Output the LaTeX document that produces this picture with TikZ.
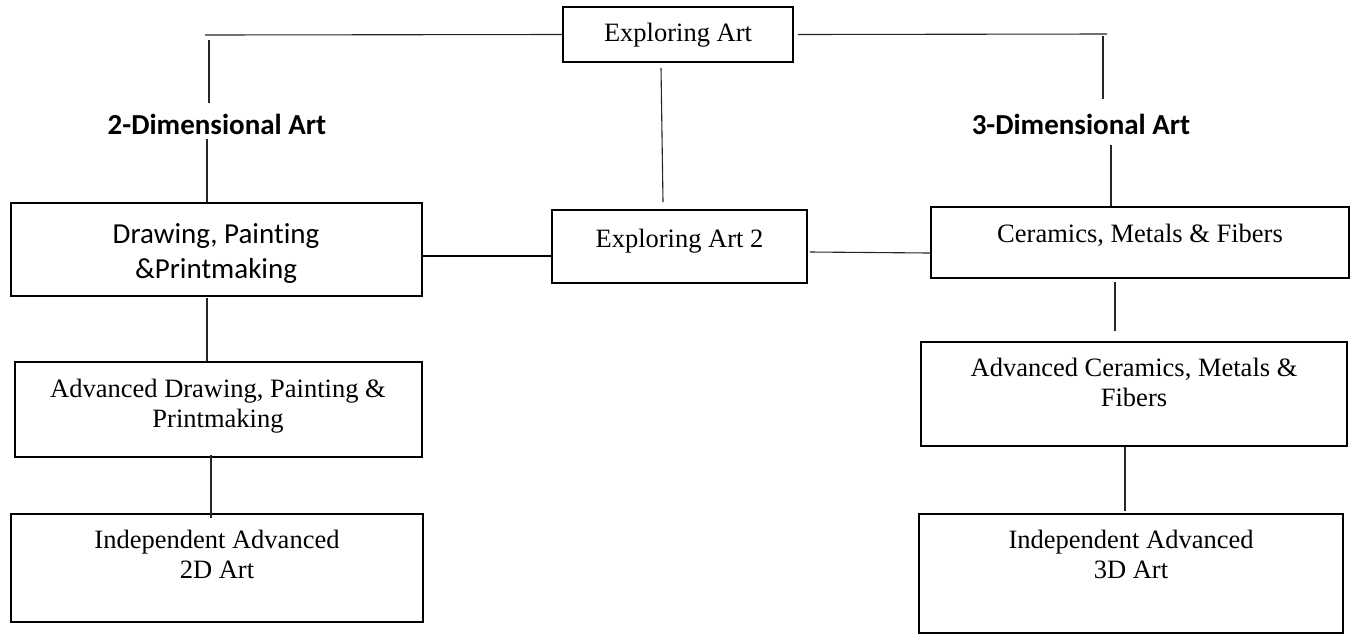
\documentclass[tikz,border=0pt]{standalone}
\usepackage{fontspec}
\setmainfont{Liberation Serif}
\newfontfamily\tnrfont{Liberation Serif}
\newfontfamily\calfont[Ligatures={NoCommon,NoRare,NoDiscretionary}]{Carlito}
\newcommand\twolines[2]{\begin{tabular}[t]{@{}c@{}}#1\\#2\end{tabular}}
\begin{document}
\begin{tikzpicture}[x=1pt,y=-1pt,
  boxst/.style={draw=black, line width=1.9pt, rectangle, inner sep=0pt},
  tnr/.style={inner sep=0pt, anchor=base, font=\tnrfont\fontsize{26.5}{30.5}\selectfont},
  cal/.style={inner sep=0pt, anchor=base, font=\calfont\fontsize{29}{35}\selectfont},
  calb/.style={inner sep=0pt, anchor=base, font=\calfont\bfseries\fontsize{29}{35}\selectfont},
  conn/.style={draw=black!85, line width=1.1pt},
  thickconn/.style={draw=black, line width=2pt}]
\useasboundingbox (0,0) rectangle (1356,633);
\fill[white] (0,0) rectangle (1356,633);

% boxes
\node[boxst, minimum width=230pt, minimum height=55pt] (ea)  at (678,34.5) {};
\node[boxst, minimum width=255pt, minimum height=73pt] (ea2) at (679.5,246.5) {};
\node[boxst, minimum width=411pt, minimum height=93pt] (drw) at (216.5,249.5) {};
\node[boxst, minimum width=407pt, minimum height=95pt] (advd) at (218.5,409.5) {};
\node[boxst, minimum width=412pt, minimum height=108pt] (ind2) at (217,568) {};
\node[boxst, minimum width=418pt, minimum height=71pt] (cer) at (1140,242.5) {};
\node[boxst, minimum width=426pt, minimum height=104pt] (advc) at (1134,394) {};
\node[boxst, minimum width=424pt, minimum height=119pt] (ind3) at (1131,573.5) {};

% texts
\node[tnr] (eaT) at (678,41) {Exploring Art};
\node[tnr] (ea2T) at (679.5,247) {Exploring Art 2};
\node[cal] (drwT) at (216,243) {\twolines{Drawing, Painting}{\&Printmaking}};
\node[tnr] (advdT) at (218,397) {\twolines{Advanced Drawing, Painting \&}{Printmaking}};
\node[tnr] (ind2T) at (217,548) {\twolines{Independent Advanced}{2D Art}};
\node[tnr] (cerT) at (1140,242) {Ceramics, Metals \& Fibers};
\node[tnr] (advcT) at (1134,376) {\twolines{Advanced Ceramics, Metals \&}{Fibers}};
\node[tnr] (ind3T) at (1131,548) {\twolines{Independent Advanced}{3D Art}};
\node[calb] (lbl2) at (217,134) {2-Dimensional Art};
\node[calb] (lbl3) at (1081,134) {3-Dimensional Art};

% free-end coordinates
\coordinate (tl) at (205,35);
\coordinate (vla) at (209,40);
\coordinate (vlb) at (209,103);
\coordinate (tr) at (1107,34);
\coordinate (vra) at (1103,36);
\coordinate (vrb) at (1103,99);
\coordinate (l2a) at (207,139);
\coordinate (l3a) at (1111,145);
\coordinate (mida) at (661,68);
\coordinate (midb) at (663,202);
\coordinate (cra) at (1115,282);
\coordinate (crb) at (1115,331);
\coordinate (acb) at (1125,511);
\coordinate (dra) at (207,298);
\coordinate (ada) at (211,455);
\coordinate (adb) at (211,518);

% connectors
\draw[conn] (ea.west) -- (tl);
\draw[conn] (vla) -- (vlb);
\draw[conn] ([xshift=4pt]ea.east) -- (tr);
\draw[conn] (vra) -- (vrb);
\draw[conn] (l2a) -- (l2a |- drw.north);
\draw[conn] (l3a) -- (l3a |- cer.north);
\draw[conn] (mida) -- (midb);
\draw[thickconn] (drw.east |- 0,256) -- (ea2.west |- 0,256);
\draw[conn] ([xshift=2pt]ea2.east |- 0,252) -- (cer.west |- 0,253);
\draw[conn] (cra) -- (crb);
\draw[conn] (acb |- advc.south) -- (acb);
\draw[conn] (dra) -- (dra |- advd.north);
\draw[conn] (ada) -- (adb);
\end{tikzpicture}
\end{document}
